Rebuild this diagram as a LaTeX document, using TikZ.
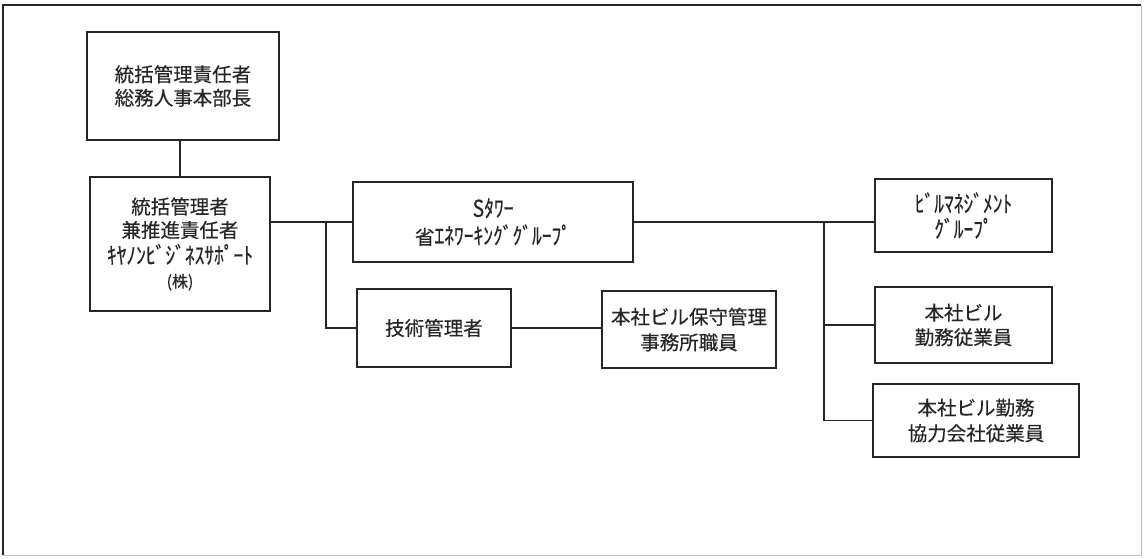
\documentclass[tikz,border=0pt]{standalone}
\usepackage{fontspec}
\usepackage{graphicx}
\setmainfont{Noto Sans CJK JP}[FakeBold=0.35]
\newcommand{\hk}[1]{\scalebox{1}[1.2]{#1}}
\begin{document}
\begin{tikzpicture}[x=1pt,y=-1pt,
  box/.style={draw=black!85,line width=1.4pt,fill=white,inner sep=0pt,align=center,text=black!85,
    font=\fontsize{19.5}{23.5}\selectfont},
  conn/.style={draw=black!85,line width=1.4pt}]
\useasboundingbox (0,0) rectangle (1144,558);
% outer frame
\draw[black!25,line width=1pt] (1141,5) -- (1141,555) -- (3,555);
\draw[black!85,line width=2pt] (3,555) -- (3,5) -- (1141,5);
% nodes
\node[box,minimum width=192pt,minimum height=108pt] (top) at (183,86) {統括管理責任者\\総務人事本部長};
\node[box,minimum width=180pt,minimum height=134pt] (sup) at (180,244)
  {統括管理者\\兼推進責任者\\[3pt]\hk{ｷﾔﾉﾝﾋﾞｼﾞﾈｽｻﾎﾟｰﾄ}\\{\fontsize{16}{22}\selectfont (株)}};
\node[box,minimum width=280pt,minimum height=80pt] (stw) at (493,222) {\hk{Sﾀﾜｰ}\\[4pt]省\hk{ｴﾈﾜｰｷﾝｸﾞｸﾞﾙｰﾌﾟ}};
\node[box,minimum width=154pt,minimum height=78pt] (tech) at (434,328) {技術管理者};
\node[box,minimum width=174pt,minimum height=77pt] (hoshu) at (689,329.5) {本社ビル保守管理\\[2pt]事務所職員};
\node[box,minimum width=177pt,minimum height=73pt] (bm) at (963.5,215.5) {\hk{ﾋﾞﾙﾏﾈｼﾞﾒﾝﾄ}\\[2pt]\hk{ｸﾞﾙｰﾌﾟ}};
\node[box,minimum width=177pt,minimum height=76pt] (hs) at (963.5,325) {本社ビル\\[1pt]勤務従業員};
\node[box,minimum width=206pt,minimum height=73pt] (kr) at (976,420.5) {本社ビル勤務\\[2pt]協力会社従業員};
% connectors
\draw[conn] (top.south -| sup.north) -- (sup.north);
\draw[conn] (stw.west) -- (stw.west -| sup.east);
\coordinate (j1) at (326,222);
\draw[conn] (j1) |- (tech.west);
\draw[conn] (tech.east) -- (tech.east -| hoshu.west);
\draw[conn] (stw.east) -- (stw.east -| bm.west);
\coordinate (j2) at (824,222);
\draw[conn] (j2) |- (hs.west);
\draw[conn] (j2) |- (kr.west);
\end{tikzpicture}
\end{document}
